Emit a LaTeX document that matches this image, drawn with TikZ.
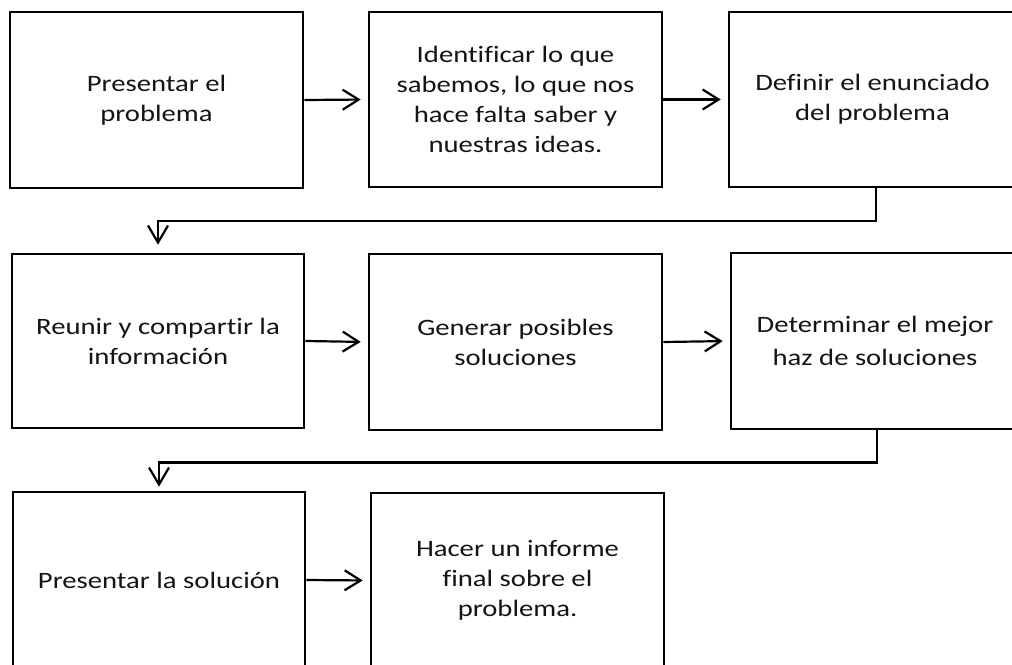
\documentclass[tikz,border=0pt]{standalone}
\usepackage{fontspec}
\setmainfont{Carlito}[Ligatures={NoCommon}, FakeStretch=1.22]
\usetikzlibrary{arrows.meta,calc}
\begin{document}
\begin{tikzpicture}[x=1pt,y=-1pt,
  box/.style={draw=black, line width=2.6pt, fill=white, align=center, inner sep=0pt,
    font=\fontsize{23.5}{30}\selectfont, text=black!92},
  wide/.style={font=\fontsize{23.5}{33}\selectfont},
  flow/.style={draw=black, line width=2.2pt, -{Straight Barb[length=16pt,width=20pt,line width=2.2pt]}, shorten >=7pt},
  link/.style={draw=black, line width=2.2pt, -{Straight Barb[length=17pt,width=20pt,line width=2.2pt]}}
]
\useasboundingbox (0,0) rectangle (1012,664);
\clip (0,0) rectangle (1012,664);
\fill[white] (0,0) rectangle (1012,664);
% row 1
\node[box, minimum width=293pt, minimum height=176pt] (b1) at (156.5,100) {Presentar el\\problema};
\node[box, minimum width=293pt, minimum height=175pt] (b2) at (515.5,99.5) {Identificar lo que\\sabemos, lo que nos\\hace falta saber y\\nuestras ideas.};
\node[box, minimum width=287pt, minimum height=175pt] (b3) at (872.5,99.5) {Definir el enunciado\\del problema};
% row 2
\node[box, minimum width=292pt, minimum height=174pt] (b4) at (158,341) {Reunir y compartir la\\información};
\node[box, minimum width=293pt, minimum height=176pt] (b5) at (515.5,342) {Generar posibles\\soluciones};
\node[box, wide, minimum width=288pt, minimum height=176pt] (b6) at (875,341) {Determinar el mejor\\haz de soluciones};
% row 3
\node[box, minimum width=292pt, minimum height=176pt] (b7) at (159,580) {Presentar la solución};
\node[box, minimum width=293pt, minimum height=175pt] (b8) at (517.5,580.5) {Hacer un informe\\final sobre el\\problema.};
% connectors
\draw[flow] (b1.east) -- (b2.west);
\draw[flow] (b2.east) -- (b3.west);
\draw[flow] (b4.east) -- (b5.west);
\draw[flow] (b5.east) -- (b6.west);
\draw[flow] (b7.east) -- (b8.west);
\coordinate (c1) at (876,221);
\coordinate (c2) at (877,462.5);
\draw[link, shorten >=8pt] (b3.south -| c1) -- (c1) -- (c1 -| b4.north) -- (b4.north);
\draw[link, shorten >=4pt] (b6.south -| c2) -- (c2) -- (c2 -| b7.north) -- (b7.north);
\end{tikzpicture}
\end{document}
